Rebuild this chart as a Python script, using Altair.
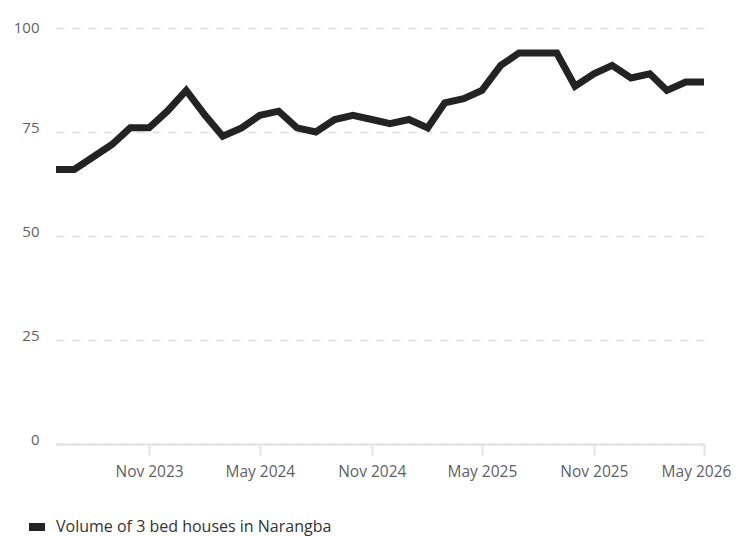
import altair as alt
import pandas as pd

months = pd.date_range("2023-06-01", "2026-05-01", freq="MS").strftime("%Y-%m-%d").tolist()
values = [66, 66, 69, 72, 76, 76, 80, 85, 79, 74, 76, 79,
          80, 76, 75, 78, 79, 78, 77, 78, 76, 82, 83, 85,
          91, 94, 94, 94, 86, 89, 91, 88, 89, 85, 87, 87]
series = ["Volume of 3 bed houses in Narangba"] * len(months)
y_ticks = [0, 25, 50, 75, 100]
x_ticks = [(2023, 11), (2024, 5), (2024, 11), (2025, 5), (2025, 11), (2026, 5)]

df = pd.DataFrame({"month": months, "value": values, "series": series})

FONT = "Open Sans"
GRID = "#e2e2e8"
TEXT = "#5f5f66"

chart = alt.Chart(df).mark_line(strokeWidth=7, strokeJoin="miter", strokeCap="butt").encode(
    x=alt.X(
        "month:T",
        scale=alt.Scale(type="utc", domain=[alt.DateTime(year=2023, month=6, date=1, utc=True),
                                           alt.DateTime(year=2026, month=5, date=1, utc=True)]),
        axis=alt.Axis(
            title=None,
            values=[alt.DateTime(year=y, month=m, date=1, utc=True) for y, m in x_ticks],
            format="%b %Y",
            grid=False,
            domainColor=GRID,
            domainWidth=2,
            tickColor=GRID,
            tickWidth=2,
            tickSize=11,
            labelPadding=9,
            labelFlush=False,
            labelOverlap=False,
            labelBound=False,
            labelFont=FONT,
            labelFontSize=15.5,
            labelColor=TEXT,
            labelOffset={"condition": {"test": "utcyear(datum.value) === 2026", "value": -8}, "value": 0},
        ),
    ),
    y=alt.Y(
        "value:Q",
        scale=alt.Scale(domain=[0, 100]),
        axis=alt.Axis(
            title=None,
            values=y_ticks,
            domain=False,
            ticks=False,
            grid=True,
            gridColor=GRID,
            gridWidth=2,
            gridDash=[8, 8],
            labelPadding=17,
            labelFont=FONT,
            labelFontSize=15,
            labelColor=TEXT,
            labelOffset={"condition": {"test": "datum.value === 100", "value": -1}, "value": -5},
        ),
    ),
    color=alt.Color(
        "series:N",
        scale=alt.Scale(range=["#232323"]),
        legend=alt.Legend(
            title=None,
            orient="none",
            legendX=-27,
            legendY=491,
            symbolType="M-1,-0.5H1V0.5H-1Z",
            symbolSize=256,
            symbolFillColor="#232323",
            symbolStrokeWidth=0,
            labelFont=FONT,
            labelFontSize=16,
            labelColor="#333333",
            labelOffset=11,
            labelLimit=0,
        ),
    ),
).properties(
    width=648,
    height=416,
    autosize=alt.AutoSizeParams(type="none"),
    padding={"left": 48, "top": 20, "right": 28, "bottom": 92},
).configure_view(stroke=None)

chart.save("out.html", embed_options={"renderer": "svg", "actions": False})
